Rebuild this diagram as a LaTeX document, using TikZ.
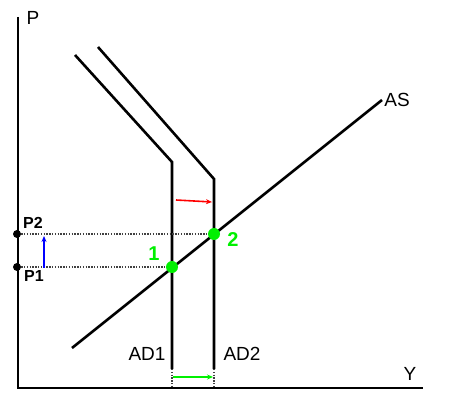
\documentclass[tikz,border=0pt]{standalone}
\usepackage{fontspec}
\setmainfont{Liberation Sans}
\usetikzlibrary{arrows.meta}
\definecolor{brightgreen}{RGB}{0,240,0}
\begin{document}
\begin{tikzpicture}[x=1pt,y=-1pt,
  curve/.style={line width=2.6pt, line join=miter, line cap=butt},
  guide/.style={line width=1.3pt, dash pattern=on 1.4pt off 1.4pt, black!75},
  gdot/.style={circle, fill=brightgreen, inner sep=0pt, minimum size=12pt},
  bdot/.style={circle, fill=black, inner sep=0pt, minimum size=8pt},
  lab/.style={font=\fontsize{19}{19}\selectfont, inner sep=0pt},
  plab/.style={font=\fontsize{16}{16}\selectfont\bfseries, inner sep=0pt},
  nlab/.style={font=\fontsize{20}{20}\selectfont\bfseries, text=brightgreen, inner sep=0pt},
  movearrow/.style={line width=1.6pt, -{Stealth[length=6pt,width=5pt]}}]
\useasboundingbox (0,0) rectangle (450,406);
% axes
\coordinate (Ptop) at (18,17);
\coordinate (O) at (18,388);
\coordinate (Xend) at (423,388);
\draw[curve] (Ptop) -- (O) -- (Xend);
\node[lab] (Plab) at (33,18) {P};
\node[lab] (Ylab) at (410,374) {Y};
% AD1
\coordinate (ad1a) at (75,55);
\coordinate (ad1b) at (172,162);
\coordinate (ad1c) at (172,369);
\coordinate (ad1d) at (172,388);
\draw[curve] (ad1a) -- (ad1b) -- (ad1c);
\draw[guide] (ad1c) -- (ad1d);
\node[lab] (ad1lab) at (147,354) {AD1};
% AD2
\coordinate (ad2a) at (98,47);
\coordinate (ad2b) at (214,179);
\coordinate (ad2c) at (214,369);
\coordinate (ad2d) at (214,388);
\draw[curve] (ad2a) -- (ad2b) -- (ad2c);
\draw[guide] (ad2c) -- (ad2d);
\node[lab] (ad2lab) at (242,354) {AD2};
% AS
\coordinate (asa) at (72,348);
\coordinate (asb) at (382,100);
\draw[curve] (asa) -- (asb);
\node[lab] (aslab) at (397,100) {AS};
% equilibrium points
\node[bdot] (bp2) at (17,234) {};
\node[bdot] (bp1) at (17,267) {};
\node[gdot] (e1) at (172,267) {};
\node[gdot] (e2) at (214,234) {};
\draw[guide] (bp1) -- (e1);
\draw[guide] (bp2) -- (e2);
\node[plab] (p2lab) at (33,223) {P2};
\node[plab] (p1lab) at (34,276) {P1};
\node[nlab] (n1) at (154,254) {1};
\node[nlab] (n2) at (233,240) {2};
% shift arrows
\coordinate (bluea) at (44,268);
\coordinate (blueb) at (44,236);
\draw[movearrow, blue] (bluea) -- (blueb);
\coordinate (reda) at (176,200);
\coordinate (redb) at (212,202);
\draw[movearrow, red] (reda) -- (redb);
\coordinate (grna) at (173,377);
\coordinate (grnb) at (213,377);
\draw[movearrow, brightgreen] (grna) -- (grnb);
\end{tikzpicture}
\end{document}
